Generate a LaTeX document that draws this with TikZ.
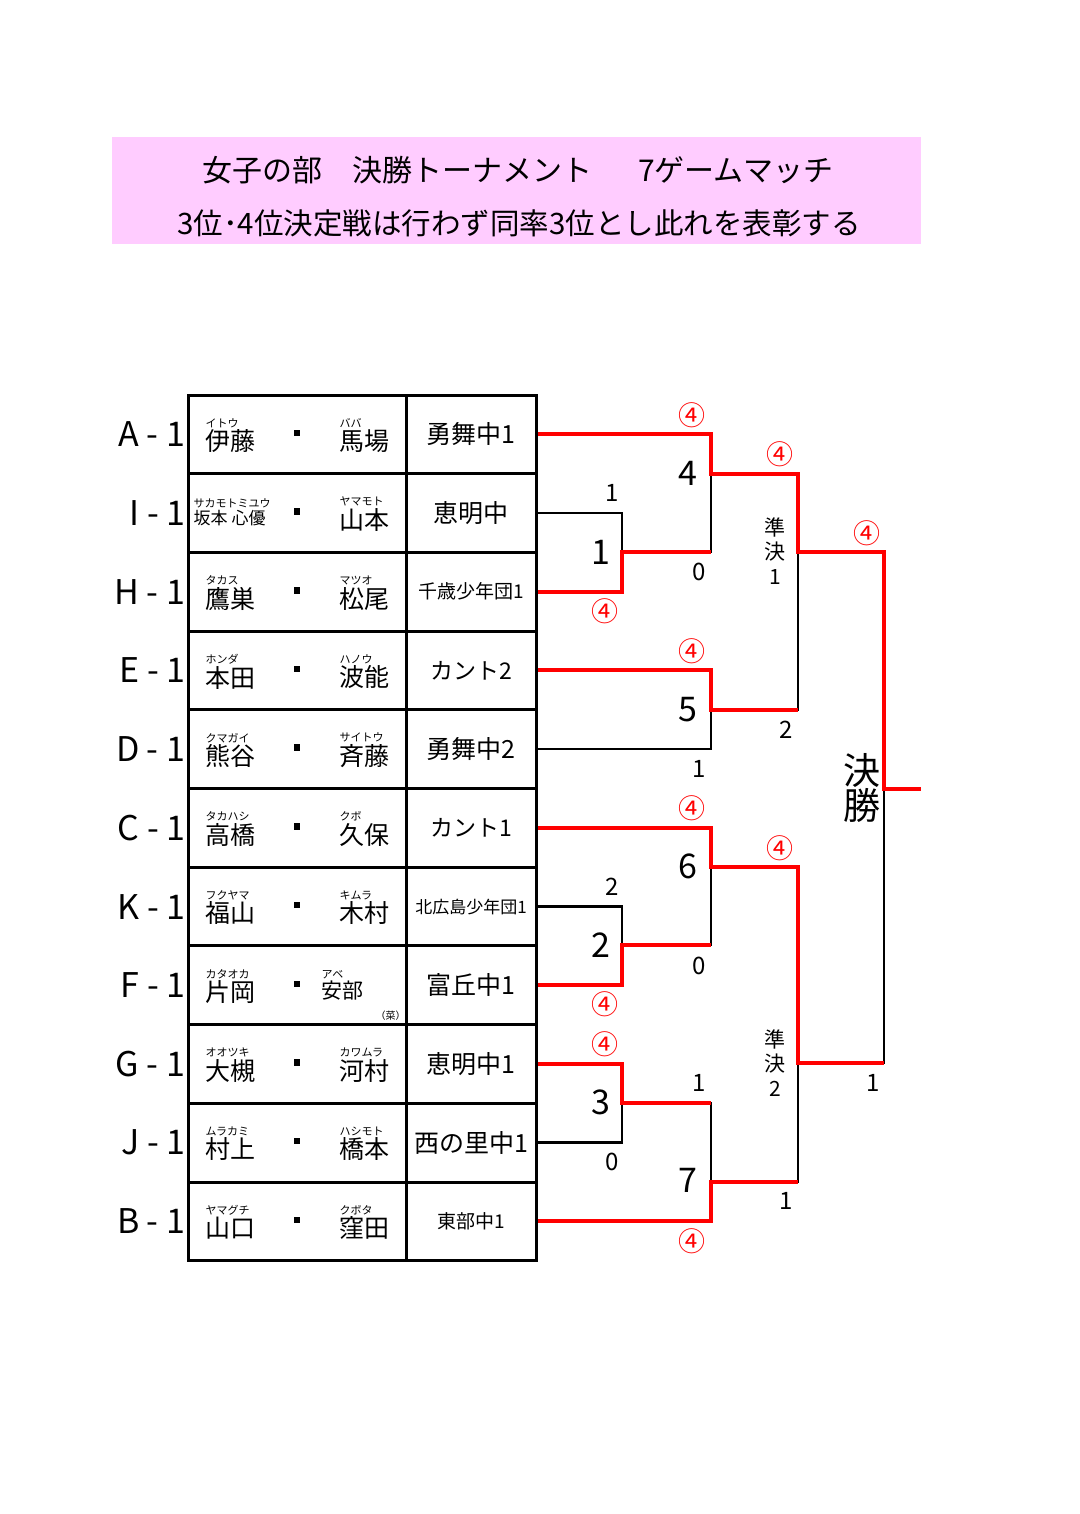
\documentclass[tikz,border=0pt]{standalone}
\usepackage{fontspec}
\setmainfont{Noto Sans CJK JP}
\usepackage{tikz}
\definecolor{pinkbg}{HTML}{FFCCFF}
\newcommand{\fsz}[1]{\fontsize{#1}{#1}\selectfont}
\newcommand{\furi}[3][25]{\begin{tabular}{@{}l@{}}\fsz{11}#2\\[-1pt]\fsz{#1}#3\end{tabular}}
\tikzstyle{titlebox} = [rectangle, fill=pinkbg, minimum width=809pt, minimum height=107pt]
\tikzstyle{namecell} = [rectangle, draw, line width=3pt, minimum width=218pt, minimum height=78.7pt, inner sep=0pt]
\tikzstyle{schoolcell} = [rectangle, draw, line width=3pt, minimum width=130pt, minimum height=78.7pt, inner sep=0pt, font=\fsz{25}]
\tikzstyle{rowlabel} = [anchor=east, inner sep=0pt, font=\fsz{34}]
\tikzstyle{pname} = [anchor=west, inner sep=0pt]
\tikzstyle{dot} = [rectangle, fill=black, minimum size=6.5pt, inner sep=0pt]
\tikzstyle{win} = [red, line width=4pt]
\tikzstyle{lose} = [black, line width=2.5pt]
\tikzstyle{circ} = [red, inner sep=0pt, font=\fsz{27}]
\tikzstyle{score} = [inner sep=0pt, font=\fsz{24}]
\tikzstyle{gameno} = [inner sep=0pt, font=\fsz{34}]

\begin{document}
\begin{tikzpicture}[x=1pt, y=-1pt, node distance=78.7pt]
\useasboundingbox (0,0) rectangle (1079,1514);
% header
\node[titlebox] (head) at (516.5,190.5) {};
\node[font=\fsz{30}] (head-1) at (518,170) {女子の部　決勝トーナメント　\hspace{16pt}7ゲームマッチ};
\node[font=\fsz{29.5}] (head-2) at (519,223) {3位･4位決定戦は行わず同率3位とし此れを表彰する};

% table cells
\node[namecell] (A-n) at (297,434.35) {};
\node[namecell, below of=A-n] (I-n) {};
\node[namecell, below of=I-n] (H-n) {};
\node[namecell, below of=H-n] (E-n) {};
\node[namecell, below of=E-n] (D-n) {};
\node[namecell, below of=D-n] (C-n) {};
\node[namecell, below of=C-n] (K-n) {};
\node[namecell, below of=K-n] (F-n) {};
\node[namecell, below of=F-n] (G-n) {};
\node[namecell, below of=G-n] (J-n) {};
\node[namecell, below of=J-n] (B-n) {};
\node[schoolcell, right of=A-n, node distance=174pt] (A-s) {勇舞中1};
\node[schoolcell, right of=I-n, node distance=174pt] (I-s) {恵明中};
\node[schoolcell, right of=H-n, node distance=174pt] (H-s) {\fsz{19}千歳少年団1};
\node[schoolcell, right of=E-n, node distance=174pt] (E-s) {\fsz{23}カント2};
\node[schoolcell, right of=D-n, node distance=174pt] (D-s) {勇舞中2};
\node[schoolcell, right of=C-n, node distance=174pt] (C-s) {\fsz{23}カント1};
\node[schoolcell, right of=K-n, node distance=174pt] (K-s) {\fsz{17}北広島少年団1};
\node[schoolcell, right of=F-n, node distance=174pt] (F-s) {富丘中1};
\node[schoolcell, right of=G-n, node distance=174pt] (G-s) {恵明中1};
\node[schoolcell, right of=J-n, node distance=174pt] (J-s) {西の里中1};
\node[schoolcell, right of=B-n, node distance=174pt] (B-s) {\fsz{19}東部中1};

% row labels
\node[rowlabel] (A-l) at ([xshift=-1pt]A-n.west) {A - 1};
\node[rowlabel] (I-l) at ([xshift=-1pt]I-n.west) {I - 1};
\node[rowlabel] (H-l) at ([xshift=-1pt]H-n.west) {H - 1};
\node[rowlabel] (E-l) at ([xshift=-1pt]E-n.west) {E - 1};
\node[rowlabel] (D-l) at ([xshift=-1pt]D-n.west) {D - 1};
\node[rowlabel] (C-l) at ([xshift=-1pt]C-n.west) {C - 1};
\node[rowlabel] (K-l) at ([xshift=-1pt]K-n.west) {K - 1};
\node[rowlabel] (F-l) at ([xshift=-1pt]F-n.west) {F - 1};
\node[rowlabel] (G-l) at ([xshift=-1pt]G-n.west) {G - 1};
\node[rowlabel] (J-l) at ([xshift=-1pt]J-n.west) {J - 1};
\node[rowlabel] (B-l) at ([xshift=-1pt]B-n.west) {B - 1};

% players
\node[pname] (A-a) at ([xshift=19pt,yshift=-2pt]A-n.west) {\furi{イトウ}{伊藤}};
\node[pname] (A-b) at ([xshift=-68pt,yshift=-2pt]A-n.east) {\furi{ババ}{馬場}};
\node[pname] (I-a) at ([xshift=7pt,yshift=0pt]I-n.west) {\furi[17]{サカモトミユウ}{坂本 心優}};
\node[pname] (I-b) at ([xshift=-68pt,yshift=-2pt]I-n.east) {\furi{ヤマモト}{山本}};
\node[pname] (H-a) at ([xshift=19pt,yshift=-2pt]H-n.west) {\furi{タカス}{鷹巣}};
\node[pname] (H-b) at ([xshift=-68pt,yshift=-2pt]H-n.east) {\furi{マツオ}{松尾}};
\node[pname] (E-a) at ([xshift=19pt,yshift=-2pt]E-n.west) {\furi{ホンダ}{本田}};
\node[pname] (E-b) at ([xshift=-68pt,yshift=-2pt]E-n.east) {\furi{ハノウ}{波能}};
\node[pname] (D-a) at ([xshift=19pt,yshift=-2pt]D-n.west) {\furi{クマガイ}{熊谷}};
\node[pname] (D-b) at ([xshift=-68pt,yshift=-2pt]D-n.east) {\furi{サイトウ}{斉藤}};
\node[pname] (C-a) at ([xshift=19pt,yshift=-2pt]C-n.west) {\furi{タカハシ}{高橋}};
\node[pname] (C-b) at ([xshift=-68pt,yshift=-2pt]C-n.east) {\furi{クボ}{久保}};
\node[pname] (K-a) at ([xshift=19pt,yshift=-2pt]K-n.west) {\furi{フクヤマ}{福山}};
\node[pname] (K-b) at ([xshift=-68pt,yshift=-2pt]K-n.east) {\furi{キムラ}{木村}};
\node[pname] (F-a) at ([xshift=19pt,yshift=-2pt]F-n.west) {\furi{カタオカ}{片岡}};
\node[pname] (F-b) at ([xshift=-86pt,yshift=-1pt]F-n.east) {\furi[21]{アベ}{安部}};
\node[inner sep=0pt, font=\fsz{10}] (F-c) at ([xshift=-17pt,yshift=10pt]F-n.south east) {（菜）};
\node[pname] (G-a) at ([xshift=19pt,yshift=-2pt]G-n.west) {\furi{オオツキ}{大槻}};
\node[pname] (G-b) at ([xshift=-68pt,yshift=-2pt]G-n.east) {\furi{カワムラ}{河村}};
\node[pname] (J-a) at ([xshift=19pt,yshift=-2pt]J-n.west) {\furi{ムラカミ}{村上}};
\node[pname] (J-b) at ([xshift=-68pt,yshift=-2pt]J-n.east) {\furi{ハシモト}{橋本}};
\node[pname] (B-a) at ([xshift=19pt,yshift=-2pt]B-n.west) {\furi{ヤマグチ}{山口}};
\node[pname] (B-b) at ([xshift=-68pt,yshift=-2pt]B-n.east) {\furi{クボタ}{窪田}};
\node[dot] (A-d) at ([yshift=1.5pt]A-n) {};
\node[dot] (I-d) at ([yshift=1.5pt]I-n) {};
\node[dot] (H-d) at ([yshift=1.5pt]H-n) {};
\node[dot] (E-d) at ([yshift=1.5pt]E-n) {};
\node[dot] (D-d) at ([yshift=1.5pt]D-n) {};
\node[dot] (C-d) at ([yshift=1.5pt]C-n) {};
\node[dot] (K-d) at ([yshift=1.5pt]K-n) {};
\node[dot] (F-d) at ([yshift=1.5pt]F-n) {};
\node[dot] (G-d) at ([yshift=1.5pt]G-n) {};
\node[dot] (J-d) at ([yshift=1.5pt]J-n) {};
\node[dot] (B-d) at ([yshift=1.5pt]B-n) {};

% bracket joints
\coordinate (m1) at (622,552);
\coordinate (m2) at (711,474);
\coordinate (m3) at (711,710);
\coordinate (s1) at (798,552);
\coordinate (m4) at (622,945);
\coordinate (m5) at (711,867);
\coordinate (m6) at (622,1103);
\coordinate (m7) at (711,1182);
\coordinate (s2) at (798,1063);
\coordinate (fin) at (884,789);
\coordinate (top) at (921,789);

% losers
\draw[lose] (I-s.east) -| (m1);
\draw[lose] (m1) -| (m2);
\draw[lose] (D-s.east) -| (m3);
\draw[lose] (m3) -| (s1);
\draw[lose] (K-s.east) -| (m4);
\draw[lose] (m4) -| (m5);
\draw[lose] (J-s.east) -| (m6);
\draw[lose] (m6) -| (m7);
\draw[lose] (m7) -| (s2);
\draw[lose] (s2) -| (fin);
% winners
\draw[win] (H-s.east) -| (m1) -- (m2 |- m1);
\draw[win] (A-s.east) -| (m2) -| (s1) -- (fin |- s1) -- (fin) -- (top);
\draw[win] (E-s.east) -| (m3) -- (s1 |- m3);
\draw[win] (F-s.east) -| (m4) -- (m5 |- m4);
\draw[win] (C-s.east) -| (m5) -| (s2) -- (fin |- s2);
\draw[win] (G-s.east) -| (m6) -- (m7 |- m6);
\draw[win] (B-s.east) -| (m7) -- (s2 |- m7);

% scores
\node[score] (sc1) at (612,493) {1};
\node[gameno] (g1) at (601,552) {1};
\node[circ] (c1) at (605,611) {④};
\node[circ] (c4a) at (692,415) {④};
\node[gameno] (g4) at (688,473) {4};
\node[score] (sc4) at (699,572) {0};
\node[circ] (c5) at (692,651) {④};
\node[gameno] (g5) at (688,710) {5};
\node[score] (sc5) at (699,769) {1};
\node[circ] (cs1) at (780,454) {④};
\node[font=\fontsize{21}{24.5}\selectfont, align=center, inner sep=0pt] (sf1) at (775,551) {準\\決\\1};
\node[score] (scs1) at (786,730) {2};
\node[circ] (cf) at (867,533) {④};
\node[font=\fontsize{37}{35}\selectfont, align=center, inner sep=0pt] (final) at (862,788) {決\\勝};
\node[score] (scf) at (873,1083) {1};
\node[circ] (c6) at (692,808) {④};
\node[gameno] (g6) at (688,866) {6};
\node[score] (sc2) at (612,887) {2};
\node[gameno] (g2) at (601,945) {2};
\node[circ] (c2) at (605,1004) {④};
\node[score] (sc6) at (699,966) {0};
\node[circ] (c3) at (605,1044) {④};
\node[gameno] (g3) at (601,1102) {3};
\node[score] (sc7) at (699,1083) {1};
\node[score] (sc3) at (612,1162) {0};
\node[gameno] (g7) at (688,1180) {7};
\node[circ] (c7) at (692,1241) {④};
\node[circ] (cs2) at (780,848) {④};
\node[font=\fontsize{21}{24.5}\selectfont, align=center, inner sep=0pt] (sf2) at (775,1063) {準\\決\\2};
\node[score] (scs2) at (786,1201) {1};
\end{tikzpicture}
\end{document}
